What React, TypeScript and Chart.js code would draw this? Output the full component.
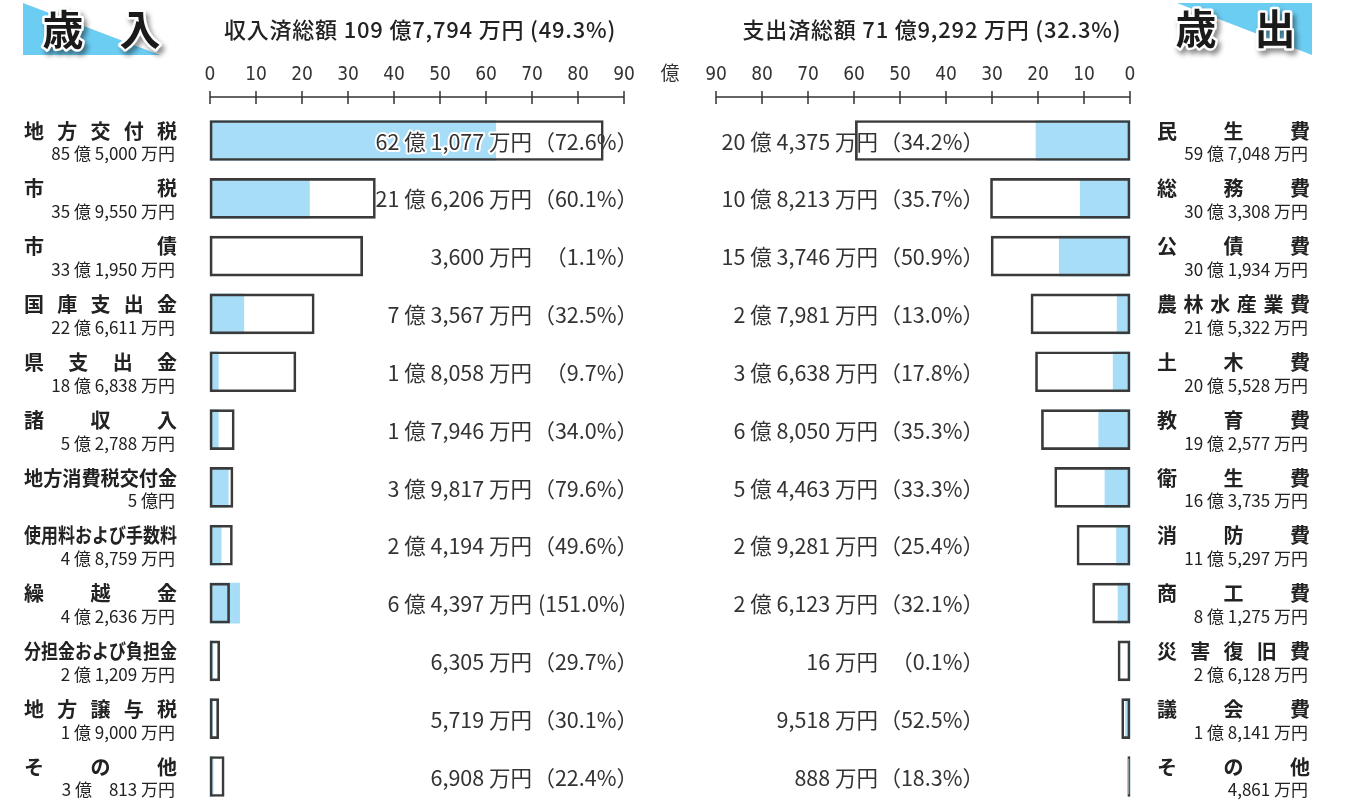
import React, { useEffect, useRef } from 'react';
import { Chart, registerables } from 'chart.js';

Chart.register(...registerables);

// ---------- data (億円) ----------
const revenueNames = ['地方交付税', '市税', '市債', '国庫支出金', '県支出金', '諸収入', '地方消費税交付金', '使用料および手数料', '繰越金', '分担金および負担金', '地方譲与税', 'その他'];
const revenueBudget = [85.5, 35.955, 33.195, 22.6611, 18.6838, 5.2788, 5.0, 4.8759, 4.2636, 2.1209, 1.9, 3.0813];
const revenueActual = [62.1077, 21.6206, 0.36, 7.3567, 1.8058, 1.7946, 3.9817, 2.4194, 6.4397, 0.6305, 0.5719, 0.6908];
const revenueBudgetText = ['85 億 5,000 万円', '35 億 9,550 万円', '33 億 1,950 万円', '22 億 6,611 万円', '18 億 6,838 万円', '5 億 2,788 万円', '5 億円', '4 億 8,759 万円', '4 億 2,636 万円', '2 億 1,209 万円', '1 億 9,000 万円', '3 億\u3000813 万円'];
const revenueActualText = ['62 億 1,077 万円', '21 億 6,206 万円', '3,600 万円', '7 億 3,567 万円', '1 億 8,058 万円', '1 億 7,946 万円', '3 億 9,817 万円', '2 億 4,194 万円', '6 億 4,397 万円', '6,305 万円', '5,719 万円', '6,908 万円'];
const revenueRate = ['（72.6%）', '（60.1%）', '（1.1%）', '（32.5%）', '（9.7%）', '（34.0%）', '（79.6%）', '（49.6%）', '(151.0%)', '（29.7%）', '（30.1%）', '（22.4%）'];

const expenditureNames = ['民生費', '総務費', '公債費', '農林水産業費', '土木費', '教育費', '衛生費', '消防費', '商工費', '災害復旧費', '議会費', 'その他'];
const expenditureBudget = [59.7048, 30.3308, 30.1934, 21.5322, 20.5528, 19.2577, 16.3735, 11.5297, 8.1275, 2.6128, 1.8141, 0.4861];
const expenditureActual = [20.4375, 10.8213, 15.3746, 2.7981, 3.6638, 6.805, 5.4463, 2.9281, 2.6123, 0.0016, 0.9518, 0.0888];
const expenditureBudgetText = ['59 億 7,048 万円', '30 億 3,308 万円', '30 億 1,934 万円', '21 億 5,322 万円', '20 億 5,528 万円', '19 億 2,577 万円', '16 億 3,735 万円', '11 億 5,297 万円', '8 億 1,275 万円', '2 億 6,128 万円', '1 億 8,141 万円', '4,861 万円'];
const expenditureActualText = ['20 億 4,375 万円', '10 億 8,213 万円', '15 億 3,746 万円', '2 億 7,981 万円', '3 億 6,638 万円', '6 億 8,050 万円', '5 億 4,463 万円', '2 億 9,281 万円', '2 億 6,123 万円', '16 万円', '9,518 万円', '888 万円'];
const expenditureRate = ['（34.2%）', '（35.7%）', '（50.9%）', '（13.0%）', '（17.8%）', '（35.3%）', '（33.3%）', '（25.4%）', '（32.1%）', '（0.1%）', '（52.5%）', '（18.3%）'];

const axisTickValues = [0, 10, 20, 30, 40, 50, 60, 70, 80, 90];
const axisUnit = '億';
const revenueTitle = '収入済総額 109 億7,794 万円 (49.3%)';
const expenditureTitle = '支出済総額 71 億9,292 万円 (32.3%)';

// one shared position axis: revenue v -> v, expenditure v -> MIRROR - v
const MIRROR = 200;

const BLUE = '#a8ddf7';
const BADGE_BLUE = '#6ccdf3';
const INK = '#333333';
const JP = "'Noto Sans CJK JP', 'Noto Sans', sans-serif";
const NARROW = "'Liberation Sans Narrow', 'DejaVu Sans Condensed', 'Noto Sans CJK JP', sans-serif";

function drawJustified(ctx: CanvasRenderingContext2D, text: string, left: number, right: number, y: number) {
  const chars = Array.from(text);
  const W = right - left;
  const widths = chars.map((c) => ctx.measureText(c).width);
  const total = widths.reduce((a, b) => a + b, 0);
  ctx.textAlign = 'left';
  if (total >= W || chars.length === 1) {
    ctx.save();
    ctx.translate(left, y);
    ctx.scale(Math.min(1, W / total), 1);
    ctx.fillText(text, 0, 0);
    ctx.restore();
  } else {
    const gap = (W - total) / (chars.length - 1);
    let x = left;
    chars.forEach((c, i) => {
      ctx.fillText(c, x, y);
      x += widths[i] + gap;
    });
  }
}

function drawBadgeText(ctx: CanvasRenderingContext2D, ch: string, x: number, y: number) {
  ctx.save();
  ctx.font = `bold 41px ${JP}`;
  ctx.textAlign = 'center';
  ctx.textBaseline = 'middle';
  ctx.shadowColor = 'rgba(0,0,0,0.45)';
  ctx.shadowBlur = 5;
  ctx.shadowOffsetX = 3;
  ctx.shadowOffsetY = 4;
  ctx.lineJoin = 'round';
  ctx.lineWidth = 5;
  ctx.strokeStyle = '#ffffff';
  ctx.strokeText(ch, x, y);
  ctx.shadowColor = 'transparent';
  ctx.fillStyle = '#1a1a1a';
  ctx.fillText(ch, x, y);
  ctx.restore();
}

function drawValueLabels(chart: any) {
  const ctx: CanvasRenderingContext2D = chart.ctx;
  const xs = chart.scales.x;
  const ys = chart.scales.y;
  const leftEnd = xs.getPixelForValue(90) + 14;
  const rightEnd = xs.getPixelForValue(MIRROR - 35) + 15;
  ctx.save();
  ctx.font = `21.5px ${JP}`;
  ctx.textBaseline = 'middle';
  ctx.textAlign = 'right';
  ctx.lineJoin = 'round';
  ctx.lineWidth = 4;
  ctx.strokeStyle = '#ffffff';
  ctx.fillStyle = INK;
  const put = (t: string, x: number, y: number) => {
    ctx.strokeText(t, x, y);
    ctx.fillText(t, x, y);
  };
  const rateX = (t: string, end: number) => (t.startsWith('(') ? end - 12 : end);
  revenueNames.forEach((_, i) => {
    const y = ys.getPixelForValue(i) + 1;
    put(revenueRate[i], rateX(revenueRate[i], leftEnd), y);
    put(revenueActualText[i], leftEnd - 106, y);
  });
  expenditureNames.forEach((_, i) => {
    const y = ys.getPixelForValue(i) + 1;
    put(expenditureRate[i], rateX(expenditureRate[i], rightEnd), y);
    put(expenditureActualText[i], rightEnd - 106, y);
  });
  ctx.restore();
}

const decorPlugin = {
  id: 'decor',
  afterDatasetDraw(chart: any, args: any) {
    if (args.index === 1) drawValueLabels(chart);
  },
  afterDraw(chart: any) {
    const ctx: CanvasRenderingContext2D = chart.ctx;
    const xs = chart.scales.x;
    const ys = chart.scales.y;
    ctx.save();

    // badges
    ctx.fillStyle = BADGE_BLUE;
    ctx.beginPath();
    ctx.moveTo(23, 3);
    ctx.lineTo(23, 55);
    ctx.lineTo(160, 55);
    ctx.closePath();
    ctx.fill();
    ctx.beginPath();
    ctx.moveTo(1177, 3);
    ctx.lineTo(1312, 3);
    ctx.lineTo(1312, 55);
    ctx.closePath();
    ctx.fill();
    drawBadgeText(ctx, '歳', 63, 29);
    drawBadgeText(ctx, '入', 140, 29);
    drawBadgeText(ctx, '歳', 1196, 28);
    drawBadgeText(ctx, '出', 1275, 28);

    // headers
    ctx.fillStyle = '#222';
    ctx.font = `500 22px ${JP}`;
    (ctx as any).letterSpacing = '0.8px';
    ctx.textAlign = 'center';
    ctx.textBaseline = 'middle';
    ctx.fillText(revenueTitle, 420, 30);
    ctx.fillText(expenditureTitle, 932, 30);
    (ctx as any).letterSpacing = '0px';

    // axis lines and tick marks
    ctx.strokeStyle = INK;
    ctx.lineWidth = 1.5;
    const axisY = 97;
    const drawAxis = (vals: number[]) => {
      const px = vals.map((v) => xs.getPixelForValue(v));
      ctx.beginPath();
      ctx.moveTo(Math.min(...px), axisY);
      ctx.lineTo(Math.max(...px), axisY);
      px.forEach((p) => {
        ctx.moveTo(p, axisY - 6);
        ctx.lineTo(p, axisY + 7);
      });
      ctx.stroke();
    };
    drawAxis(axisTickValues);
    drawAxis(axisTickValues.map((v) => MIRROR - v));

    // category names and budget amounts
    ctx.fillStyle = '#222';
    ctx.textBaseline = 'middle';
    revenueNames.forEach((name, i) => {
      const y = ys.getPixelForValue(i);
      ctx.font = `bold 20px ${JP}`;
      drawJustified(ctx, name, 24, 177, y - 9.5);
      ctx.font = `17px ${JP}`;
      ctx.textAlign = 'right';
      ctx.fillText(revenueBudgetText[i], 175, y + 13.5);
    });
    expenditureNames.forEach((name, i) => {
      const y = ys.getPixelForValue(i);
      ctx.font = `bold 20px ${JP}`;
      drawJustified(ctx, name, 1157, 1310, y - 9.5);
      ctx.font = `17px ${JP}`;
      ctx.textAlign = 'right';
      ctx.fillText(expenditureBudgetText[i], 1308, y + 13.5);
    });
    ctx.restore();
  },
};

export default function App() {
  const ref = useRef<HTMLCanvasElement>(null);
  useEffect(() => {
    const common = { grouped: false, barThickness: 40, clip: false as const, borderSkipped: false as const };
    const chart = new Chart(ref.current!, {
      type: 'bar',
      data: {
        labels: revenueNames,
        datasets: [
          {
            label: '歳入予算額',
            data: revenueBudget.map((v) => [0, v]),
            backgroundColor: 'rgba(0,0,0,0)',
            borderColor: '#3a3a3a',
            borderWidth: 2,
            order: 0,
            ...common,
          },
          {
            label: '収入済額',
            data: revenueActual.map((v) => [0, v]),
            backgroundColor: BLUE,
            borderWidth: 0,
            order: 1,
            ...common,
          },
          {
            label: '歳出予算額',
            data: expenditureBudget.map((v) => [MIRROR - v, MIRROR]),
            backgroundColor: 'rgba(0,0,0,0)',
            borderColor: '#3a3a3a',
            borderWidth: 2,
            order: 0,
            ...common,
          },
          {
            label: '支出済額',
            data: expenditureActual.map((v) => [MIRROR - v, MIRROR]),
            backgroundColor: BLUE,
            borderWidth: 0,
            order: 1,
            ...common,
          },
        ] as any,
      },
      options: {
        indexAxis: 'y',
        responsive: false,
        animation: false,
        devicePixelRatio: 1,
        layout: { padding: { left: 210, right: 217, top: 0, bottom: 24.5 } },
        plugins: { legend: { display: false }, tooltip: { enabled: false } },
        scales: {
          x: {
            type: 'linear',
            position: 'top',
            min: 0,
            max: MIRROR,
            grid: { display: false, drawTicks: false },
            border: { display: false },
            afterFit: (scale: any) => {
              scale.height = 140.5;
            },
            ticks: {
              stepSize: 10,
              autoSkip: false,
              maxRotation: 0,
              padding: 54,
              color: INK,
              font: { family: NARROW, size: 19 },
              callback: (value: any) => {
                const v = Number(value);
                if (v <= 90) return String(v);
                if (v === 100) return axisUnit;
                if (v >= MIRROR - 90) return String(MIRROR - v);
                return '';
              },
            },
          },
          y: {
            type: 'category',
            offset: false,
            display: false,
            grid: { display: false },
          },
        },
      } as any,
      plugins: [decorPlugin],
    });
    return () => chart.destroy();
  }, []);
  return (
    <canvas
      ref={ref}
      width={1347}
      height={801}
      style={{ position: 'fixed', left: 0, top: 0, width: 1347, height: 801, display: 'block' }}
    />
  );
}
